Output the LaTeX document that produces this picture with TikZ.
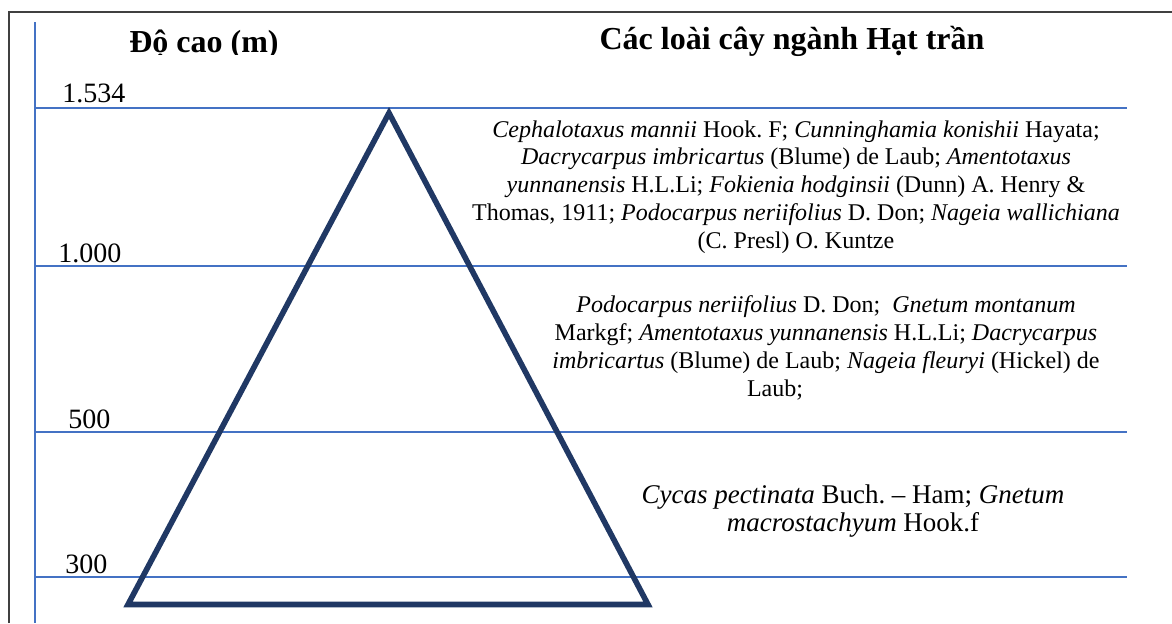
\documentclass[tikz,border=0pt]{standalone}
\usepackage{fontspec}
\setmainfont{Liberation Serif}
\usetikzlibrary{positioning}
\definecolor{axisblue}{RGB}{68,114,196}
\definecolor{pyramidnavy}{RGB}{32,56,100}
\frenchspacing
\begin{document}
\begin{tikzpicture}[
    x=0.5pt, y=-0.5pt,
    every node/.style={inner sep=0pt},
    level/.style={draw=axisblue, line width=1pt},
    frame/.style={draw=black!75, line width=1pt},
    height/.style={anchor=base west, font=\fontsize{14}{16}\selectfont},
    heading/.style={anchor=base, font=\fontsize{16}{19}\selectfont\bfseries},
    species/.style={align=center, font=\fontsize{12}{13.9}\selectfont},
    pyramid/.style={draw=pyramidnavy, line width=2.8pt, line join=miter}
]
\useasboundingbox (0,0) rectangle (1172,623);

% Outer frame
\coordinate (fbl) at (9,623);
\coordinate (ftl) at (9,12);
\coordinate (ftr) at (1172,12);
\draw[frame] (fbl) -- (ftl) -- (ftr);

% Altitude axis
\coordinate (axtop) at (35,22);
\coordinate (axbot) at (35,623);
\draw[level] (axtop) -- (axbot);

% Altitude levels
\foreach \name/\y in {1534/108, 1000/265.5, 500/432, 300/577} {
    \coordinate (a\name) at (35,\y);
    \coordinate (e\name) at (1127,\y);
    \draw[level] (a\name) -- (e\name);
}

% Level labels
\node[height] (h1534) at (62,102) {1.534};
\node[height] (h1000) at (58,262) {1.000};
\node[height] (h500) at (68,428) {500};
\node[height] (h300) at (65,573) {300};

% Headings
\begin{scope}
    \clip (0,0) rectangle (1172,54);
    \node[heading] (altitude) at (204,52) {Độ cao (m)};
\end{scope}
\node[heading] (conifers) at (792,49) {Các loài cây ngành Hạt trần};

% Pyramid
\coordinate (apex) at (389,113);
\coordinate (baseL) at (128,604.5);
\coordinate (baseR) at (648,604.5);
\draw[pyramid] (apex) -- (baseL) -- (baseR) -- cycle;

% ============ Species by altitude zone ============
\node[species] (zone1) at (796,187) {\textit{Cephalotaxus mannii} Hook. F; \textit{Cunninghamia konishii} Hayata;\\
    \textit{Dacrycarpus imbricartus} (Blume) de Laub; \textit{Amentotaxus}\\
    \textit{yunnanensis} H.L.Li; \textit{Fokienia hodginsii} (Dunn) A. Henry \&\\
    Thomas, 1911; \textit{Podocarpus neriifolius} D. Don; \textit{Nageia wallichiana}\\
    (C. Presl) O. Kuntze};
\node[species] (zone2) at (826,348) {\textit{Podocarpus neriifolius} D. Don;\ \ \textit{Gnetum montanum}\\
    Markgf; \textit{Amentotaxus yunnanensis} H.L.Li; \textit{Dacrycarpus}\\
    \textit{imbricartus} (Blume) de Laub; \textit{Nageia fleuryi} (Hickel) de\\
    Laub;\hspace*{51pt}};
\node[species, font=\fontsize{13.5}{14}\selectfont] (zone3) at (853,511) {\textit{Cycas pectinata} Buch. – Ham; \textit{Gnetum}\\
    \textit{macrostachyum} Hook.f};

\end{tikzpicture}
\end{document}
